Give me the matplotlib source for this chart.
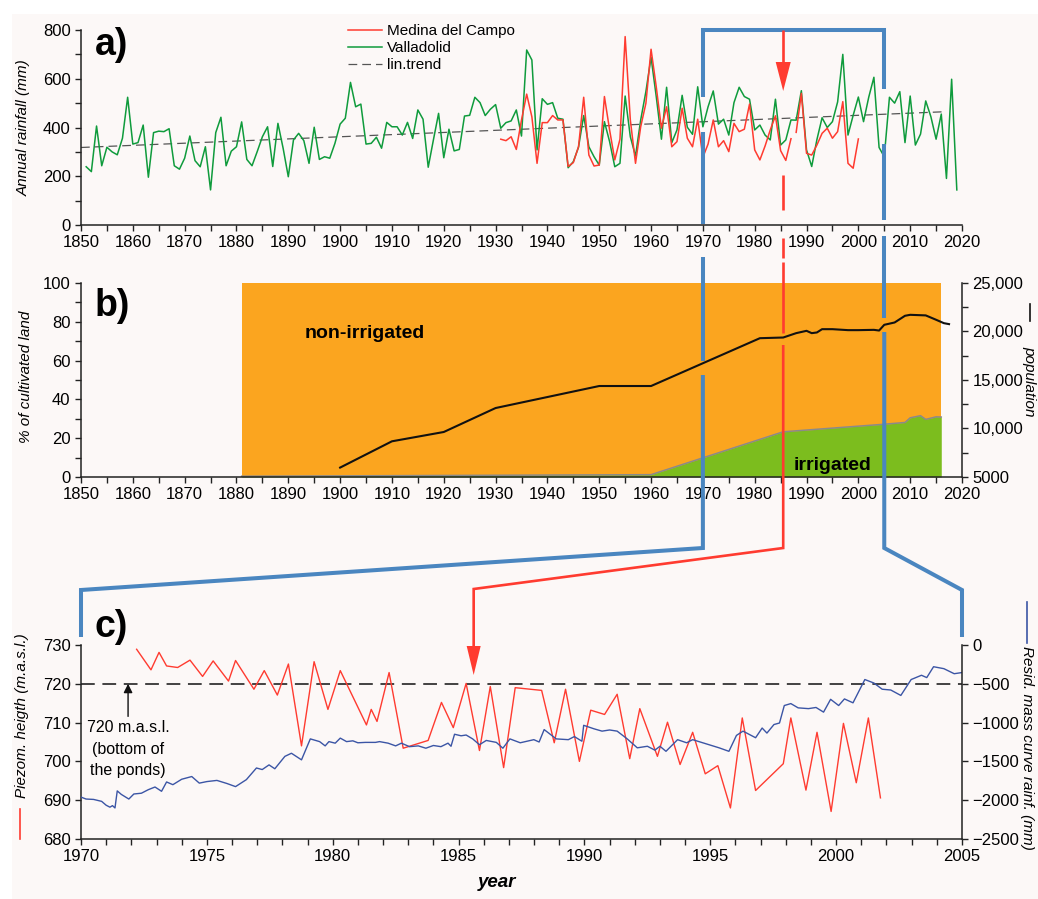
import numpy as np
import matplotlib
matplotlib.use("Agg")
import matplotlib.pyplot as plt
from matplotlib.lines import Line2D
from matplotlib.patches import Polygon, Rectangle
from matplotlib.ticker import MultipleLocator, FixedLocator

plt.rcParams['font.family'] = ['Liberation Sans', 'DejaVu Sans']

# --- a) annual rainfall (mm) ---
vall_years = list(range(1851, 2020))
vall_rain = [239, 219, 406, 243, 319, 300, 288, 356, 524, 332,
             338, 410, 196, 379, 385, 383, 395, 243, 229, 274,
             365, 264, 239, 321, 144, 379, 442, 243, 303, 321,
             423, 269, 243, 301, 362, 403, 240, 417, 315, 198,
             349, 376, 346, 253, 401, 269, 280, 274, 335, 414,
             438, 585, 485, 496, 332, 335, 360, 315, 421, 403,
             403, 369, 421, 355, 472, 434, 237, 349, 458, 276,
             393, 304, 310, 447, 450, 524, 502, 449, 475, 494,
             397, 420, 427, 472, 365, 718, 677, 308, 518, 495,
             502, 438, 434, 235, 260, 319, 449, 321, 280, 246,
             424, 342, 239, 253, 529, 362, 283, 431, 547, 688,
             527, 352, 565, 338, 390, 532, 401, 372, 567, 403,
             485, 550, 414, 434, 369, 502, 565, 527, 516, 390,
             410, 369, 349, 516, 328, 349, 431, 430, 551, 308,
             240, 350, 440, 400, 424, 505, 700, 369, 450, 525,
             424, 524, 606, 318, 280, 524, 500, 547, 338, 529,
             328, 373, 509, 444, 352, 455, 191, 598, 144]
medina_years_1 = list(range(1931, 1988))
medina_rain_1 = [352, 346, 362, 310, 431, 537, 444, 253, 420, 420,
                 449, 431, 431, 240, 256, 321, 524, 287, 242, 246,
                 527, 390, 267, 352, 773, 431, 253, 403, 499, 721,
                 567, 397, 485, 321, 342, 479, 356, 321, 434, 278,
                 332, 431, 321, 346, 301, 417, 383, 393, 496, 308,
                 267, 324, 390, 448, 305, 265, 354]
medina_years_2 = list(range(1988, 2001))
medina_rain_2 = [380, 540, 294, 287, 328, 376, 397, 356, 383, 506, 253, 233, 353]
trend_years = [1850, 2017]
trend_rain = [318, 465]

# --- b) land use and population ---
land_years = [1881, 2016]
irr_years = [1881, 1960, 1985.5, 2005, 2009, 2010, 2012, 2013, 2015, 2016]
irr_pct = [0.4, 1.2, 23.3, 27.2, 28.1, 30.5, 31.6, 29.7, 31.0, 30.9]
pop_years = [1900, 1910, 1920, 1930, 1950, 1960, 1981, 1985.5, 1988, 1990,
             1991, 1992, 1993, 1995, 1998, 2000, 2003, 2004, 2005, 2007,
             2009, 2010, 2013, 2015, 2016.5, 2017.5]
pop = [5970, 8680, 9640, 12110, 14380, 14380, 19310, 19380, 19830, 20070,
       19830, 19900, 20240, 20240, 20140, 20140, 20170, 20100, 20690, 20930,
       21620, 21720, 21660, 21210, 20860, 20760]
pop_ticks = [5000, 10000, 15000, 20000, 25000]
pop_labels = ["5000", "10,000", "15,000", "20,000", "25,000"]

# --- c) piezometric height and residual mass curve ---
piezo_years = [1972.21, 1972.78, 1973.1, 1973.4, 1973.84, 1974.33, 1974.83, 1975.25,
               1975.86, 1976.14, 1976.87, 1977.28, 1977.8, 1978.24, 1978.76, 1979.26,
               1979.81, 1980.3, 1981.34, 1981.53, 1981.76, 1982.24, 1982.8, 1983.79,
               1984.32, 1984.79, 1985.3, 1985.83, 1986.26, 1986.79, 1987.25, 1988.3,
               1988.8, 1989.25, 1989.8, 1990.25, 1990.8, 1991.3, 1991.8, 1992.2,
               1992.9, 1993.3, 1993.8, 1994.3, 1994.8, 1995.3, 1995.8, 1996.27,
               1996.8, 1997.9, 1998.2, 1998.8, 1999.24, 1999.8, 2000.29, 2000.8,
               2001.28, 2001.76]
piezo_m = [728.9, 723.6, 728.1, 724.6, 724.2, 726.1, 721.9, 725.9,
           720.7, 726.0, 718.6, 723.4, 717.1, 725.1, 704.0, 725.7,
           713.4, 723.4, 709.4, 713.4, 710.3, 722.9, 703.4, 705.4,
           715.2, 708.7, 720.1, 702.8, 719.3, 698.4, 719.0, 718.3,
           704.8, 718.6, 700.0, 713.2, 712.1, 717.3, 700.7, 713.6,
           701.3, 710.1, 699.2, 707.5, 696.8, 698.9, 688.0, 711.2,
           692.5, 699.4, 711.2, 692.6, 707.5, 687.1, 709.8, 694.5,
           711.2, 690.6]
rmc_years = [1970.0, 1970.2, 1970.5, 1970.82, 1971.0, 1971.15, 1971.25, 1971.35, 1971.44,
             1971.6, 1971.9, 1972.1, 1972.4, 1972.67, 1972.94, 1973.2, 1973.4, 1973.65,
             1974.0, 1974.4, 1974.7, 1975.0, 1975.4, 1975.8, 1976.14, 1976.57, 1976.97,
             1977.2, 1977.47, 1977.7, 1978.1, 1978.36, 1978.76, 1979.11, 1979.48, 1979.7,
             1979.85, 1980.1, 1980.3, 1980.55, 1980.8, 1981.0, 1981.3, 1981.7, 1981.86,
             1982.2, 1982.5, 1982.73, 1983.05, 1983.4, 1983.7, 1984.0, 1984.3, 1984.58,
             1984.7, 1984.84, 1985.1, 1985.3, 1985.56, 1985.83, 1986.1, 1986.5, 1986.76,
             1987.04, 1987.45, 1987.99, 1988.2, 1988.4, 1988.88, 1989.36, 1989.6, 1989.9,
             1989.97, 1990.38, 1990.7, 1991.0, 1991.3, 1991.7, 1992.1, 1992.5, 1992.8,
             1993.0, 1993.24, 1993.7, 1994.06, 1994.3, 1994.8, 1995.35, 1995.74, 1996.04,
             1996.3, 1996.8, 1997.06, 1997.25, 1997.53, 1997.75, 1997.94, 1998.2, 1998.49,
             1998.9, 1999.2, 1999.5, 1999.78, 2000.1, 2000.33, 2000.67, 2001.14, 2001.5,
             2001.83, 2002.17, 2002.57, 2002.98, 2003.39, 2003.6, 2003.87, 2004.28, 2004.69,
             2005.0]
rmc_mm = [-1960, -1985, -1990, -2015, -2065, -2090, -2070, -2100, -1880,
          -1925, -1985, -1920, -1910, -1865, -1830, -1885, -1765, -1800,
          -1730, -1695, -1780, -1760, -1745, -1785, -1825, -1735, -1585,
          -1605, -1545, -1595, -1435, -1395, -1480, -1210, -1245, -1300,
          -1245, -1265, -1200, -1245, -1235, -1260, -1255, -1255, -1245,
          -1265, -1300, -1265, -1310, -1300, -1330, -1295, -1310, -1265,
          -1305, -1150, -1170, -1160, -1210, -1285, -1230, -1255, -1330,
          -1210, -1260, -1220, -1250, -1090, -1210, -1220, -1180, -1240,
          -1035, -1080, -1110, -1095, -1110, -1210, -1325, -1305, -1355,
          -1305, -1370, -1220, -1260, -1220, -1270, -1325, -1370, -1165,
          -1110, -1195, -1070, -1135, -1025, -1005, -780, -755, -810,
          -820, -805, -865, -700, -780, -695, -745, -445, -490,
          -570, -580, -650, -445, -390, -420, -280, -305, -370,
          -355]
pond_level = 720

# --- style ---
W, H = 1038, 899
BG = '#fcf8f7'
GREEN = '#0f9b3c'
RED = '#ff3b30'
BLUE_BAR = '#4a86c0'
NAVY = '#3b55a5'
ORANGE = '#fba51f'
LIME = '#7cbd1e'


def style(ax, spines):
    for s in ['top', 'right', 'left', 'bottom']:
        ax.spines[s].set_visible(s in spines)
        ax.spines[s].set_linewidth(1.1)
        ax.spines[s].set_color('#222222')
    ax.tick_params(which='both', direction='out', length=4.5, width=1,
                   labelsize=12, color='#222222', pad=3)
    ax.set_facecolor('none')


fig = plt.figure(figsize=(W / 100, H / 100), dpi=100, facecolor='white')
fig.add_artist(Rectangle((12 / W, 0), 1 - 12 / W, 1 - 14 / H, transform=fig.transFigure,
                         facecolor=BG, edgecolor='none', zorder=-10))

ax_a = fig.add_axes([81 / W, 1 - 225 / H, 881 / W, 195 / H])
ax_b = fig.add_axes([81 / W, 1 - 477 / H, 881 / W, 194 / H])
ax_c = fig.add_axes([81 / W, 1 - 839 / H, 881 / W, 194 / H])

# panel a
style(ax_a, ['left', 'bottom'])
ax_a.plot(trend_years, trend_rain, color='#555555', lw=0.9, dashes=(7, 4), label='lin.trend')
ax_a.plot(vall_years, vall_rain, color=GREEN, lw=1.1, label='Valladolid')
ax_a.plot(medina_years_1, medina_rain_1, color=RED, lw=1.1, label='Medina del Campo')
ax_a.plot(medina_years_2, medina_rain_2, color=RED, lw=1.1)
ax_a.set_xlim(1850, 2020)
ax_a.set_ylim(0, 800)
ax_a.xaxis.set_major_locator(MultipleLocator(10))
ax_a.xaxis.set_minor_locator(MultipleLocator(5))
ax_a.yaxis.set_major_locator(MultipleLocator(200))
ax_a.yaxis.set_minor_locator(MultipleLocator(100))
ax_a.set_ylabel('Annual rainfall (mm)', fontsize=11, style='italic')
ax_a.yaxis.set_label_coords(-0.057, 0.5)
h, lab = ax_a.get_legend_handles_labels()
order = [2, 1, 0]
ax_a.legend([h[i] for i in order], [lab[i] for i in order], loc='upper left',
            bbox_to_anchor=(348 / W, 1 - 24 / H), bbox_transform=fig.transFigure,
            frameon=False, fontsize=11, handlelength=2.2, handletextpad=0.35,
            labelspacing=0.2, borderaxespad=0, borderpad=0)

# panel b
style(ax_b, ['left', 'bottom'])
ax_b.fill_between(land_years, 0, 100, color=ORANGE, lw=0)
ax_b.fill_between(irr_years, 0, irr_pct, color=LIME, lw=0)
ax_b.plot(irr_years, irr_pct, color='#8a8a8a', lw=1.1)
ax_b.set_xlim(1850, 2020)
ax_b.set_ylim(0, 100)
ax_b.xaxis.set_major_locator(MultipleLocator(10))
ax_b.xaxis.set_minor_locator(MultipleLocator(5))
ax_b.yaxis.set_major_locator(MultipleLocator(20))
ax_b.yaxis.set_minor_locator(MultipleLocator(10))
ax_b.set_ylabel('% of cultivated land', fontsize=11, style='italic')
ax_b.yaxis.set_label_coords(-0.055, 0.515)
ax_b.text(1904.8, 74, 'non-irrigated', fontsize=14, fontweight='bold', ha='center', va='center')
ax_b.text(1995, 5.7, 'irrigated', fontsize=14, fontweight='bold', ha='center', va='center')

ax_b2 = ax_b.twinx()
style(ax_b2, ['right'])
ax_b2.plot(pop_years, pop, color='#111111', lw=1.5)
ax_b2.set_ylim(5000, 25000)
ax_b2.yaxis.set_major_locator(FixedLocator(pop_ticks))
ax_b2.set_yticklabels(pop_labels)
ax_b2.yaxis.set_minor_locator(MultipleLocator(2500))
ax_b2.plot([1.077, 1.077], [0.892, 0.804], transform=ax_b2.transAxes, color='#111111',
           lw=1.2, clip_on=False)
ax_b2.text(1.077, 0.495, 'population', transform=ax_b2.transAxes, rotation=270,
           fontsize=11, style='italic', ha='center', va='center')

# panel c
style(ax_c, ['left', 'bottom'])
ax_c.axhline(pond_level, color='#111111', lw=1.1, dashes=(9, 5))
ax_c.plot(piezo_years, piezo_m, color=RED, lw=1.0)
ax_c.set_xlim(1970, 2005)
ax_c.set_ylim(680, 730)
ax_c.xaxis.set_major_locator(MultipleLocator(5))
ax_c.xaxis.set_minor_locator(MultipleLocator(1))
ax_c.yaxis.set_major_locator(MultipleLocator(10))
ax_c.set_xlabel('year', fontsize=13.5, fontweight='bold', style='italic')
ax_c.xaxis.set_label_coords(0.472, -0.180)
ax_c.text(-0.067, 0.634, 'Piezom. heigth (m.a.s.l.)', transform=ax_c.transAxes, rotation=90,
          fontsize=11, style='italic', ha='center', va='center')
ax_c.plot([-0.069, -0.069], [0.0, 0.155], transform=ax_c.transAxes, color=RED, lw=1.2,
          clip_on=False)
ax_c.annotate('', xy=(1971.87, pond_level), xytext=(1971.87, 711.6),
              arrowprops=dict(arrowstyle='-|>', color='#111111', lw=1, mutation_scale=13,
                              shrinkA=0, shrinkB=0))
ax_c.text(1971.87, 710.6, '720 m.a.s.l.\n(bottom of\nthe ponds)', fontsize=11.5,
          ha='center', va='top', linespacing=1.55)

ax_c2 = ax_c.twinx()
style(ax_c2, ['right'])
ax_c2.plot(rmc_years, rmc_mm, color=NAVY, lw=1.0)
ax_c2.set_ylim(-2500, 0)
ax_c2.yaxis.set_major_locator(MultipleLocator(500))
ax_c2.text(1.074, 0.469, 'Resid. mass curve rainf. (mm)', transform=ax_c2.transAxes,
           rotation=270, fontsize=11, style='italic', ha='center', va='center')
ax_c2.plot([1.074, 1.074], [1.22, 1.01], transform=ax_c2.transAxes, color=NAVY, lw=1.2,
           clip_on=False)

# panel letters
for txt, ypx in [('a)', 45), ('b)', 306), ('c)', 627)]:
    fig.text(95 / W, 1 - ypx / H, txt, fontsize=27, fontweight='bold', ha='left', va='center')

# --- connectors between panels ---
fw = fig.get_figwidth() * fig.dpi


def fx(ax, year):
    return ax.transData.transform((year, ax.get_ylim()[0]))[0] / fw


def fy(ypx):
    return 1 - ypx / H


def line(xs, ys, color, lw):
    fig.add_artist(Line2D(xs, [fy(v) for v in ys], transform=fig.transFigure, color=color,
                          lw=lw, solid_capstyle='butt', solid_joinstyle='miter'))


def head(x, ytip, length, width):
    half = width / 2 / W
    fig.add_artist(Polygon([(x - half, fy(ytip - length)), (x + half, fy(ytip - length)),
                            (x, fy(ytip))], closed=True, transform=fig.transFigure,
                           facecolor=RED, edgecolor='none'))


BLW = 2.9
x70a, x05a = fx(ax_a, 1970), fx(ax_a, 2005)
x70c, x05c = fx(ax_c, 1970), fx(ax_c, 2005)
line([x70a, x70a, x05a, x05a], [97, 30, 30, 89], BLUE_BAR, BLW)
line([x70a, x70a], [132, 224], BLUE_BAR, BLW)
line([x05a, x05a], [144, 220], BLUE_BAR, BLW)
line([x70a, x70a], [257, 361], BLUE_BAR, BLW)
line([x70a, x70a, x70c, x70c], [375, 548, 590, 637], BLUE_BAR, BLW)
line([x05a, x05a], [236, 318], BLUE_BAR, BLW)
line([x05a, x05a, x05c, x05c], [332, 548, 590, 637], BLUE_BAR, BLW)

RLW = 1.9
xr = fx(ax_a, 1985.5)
xrc = fx(ax_c, 1985.6)
line([xr, xr], [30, 63], RED, RLW)
head(xr, 91, 29, 15)
line([xr, xr], [175, 210], RED, RLW)
line([xr, xr], [238, 258], RED, RLW)
line([xr, xr], [262, 333], RED, RLW)
line([xr, xr, xrc, xrc], [345, 548, 589, 648], RED, RLW)
head(xrc, 675, 29, 14)

fig.savefig('out.png', dpi=100, facecolor=fig.get_facecolor())
